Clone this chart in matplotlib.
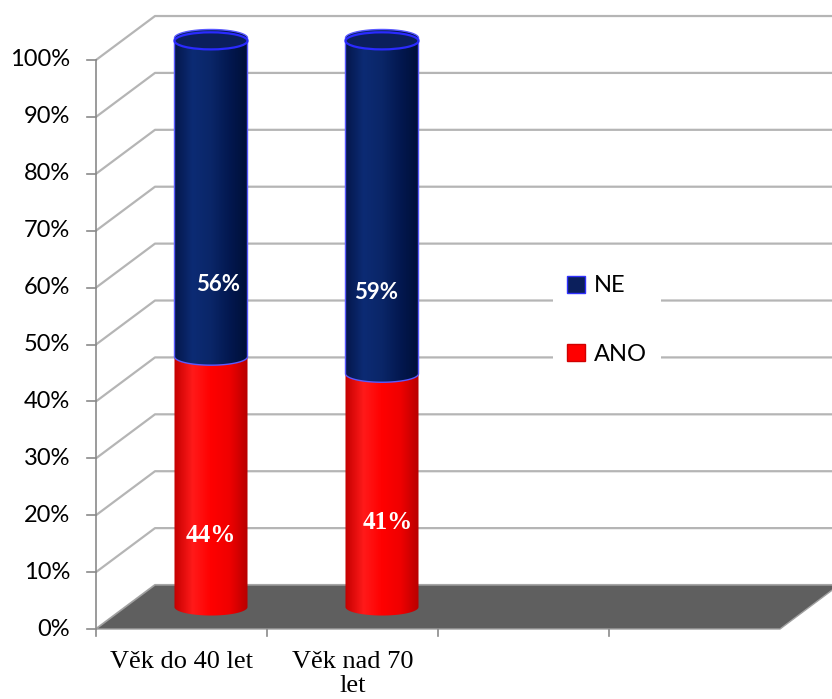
import numpy as np
import matplotlib
matplotlib.use("Agg")
import matplotlib.pyplot as plt
from matplotlib.patches import Polygon, Ellipse, Patch
from matplotlib.colors import LinearSegmentedColormap

# ==================== Data ====================
categories = ["Věk do 40 let", "Věk nad 70\nlet"]
ano = [44, 41]          # ANO (%)
ne = [56, 59]           # NE (%)
y_ticks = list(range(0, 101, 10))
n_slots = 4             # category slots on the floor

# label anchors (category units, percent)
ne_label_pos = [(0.713, 60.6), (1.637, 59.2)]
ano_label_pos = [(0.672, 16.5), (1.708, 18.8)]

# ==================== Style ====================
DU, DP = 0.345, 7.73            # depth offset of the back wall
CYL_W, CAP_H = 0.427, 3.0       # cylinder width / ellipse height
GRID = "#b5b5b5"

blue_cmap = LinearSegmentedColormap.from_list(
    "blue_cyl", ["#04164a", "#0c2b74", "#0a2668", "#031850", "#000f38"])
red_cmap = LinearSegmentedColormap.from_list(
    "red_cyl", ["#c40000", "#ff1a1a", "#ff0000", "#f00000", "#b80000"])

fig = plt.figure(figsize=(8.32, 6.99), dpi=100)
ax = fig.add_axes([0, 0, 1, 1])
ax.axis("off")


def cylinder_outline(cx, p0, p1, n=60):
    # front arc at the bottom, back arc at the top
    t = np.linspace(np.pi, 2 * np.pi, n)
    bot = np.c_[cx + CYL_W / 2 * np.cos(t), p0 + CAP_H / 2 * np.sin(t)]
    t2 = np.linspace(0, np.pi, n)
    top = np.c_[cx + CYL_W / 2 * np.cos(t2), p1 + CAP_H / 2 * np.sin(t2)]
    return np.vstack([bot, top])


def draw_segment(cx, p0, p1, cmap, edge, z):
    poly = Polygon(cylinder_outline(cx, p0, p1), closed=True,
                   facecolor="none", edgecolor=edge, lw=1.0, zorder=z + 0.5)
    ax.add_patch(poly)
    grad = np.linspace(0, 1, 200).reshape(1, -1)
    im = ax.imshow(grad, cmap=cmap, aspect="auto", interpolation="bilinear",
                   extent=(cx - CYL_W / 2, cx + CYL_W / 2, p0 - CAP_H, p1 + CAP_H),
                   zorder=z)
    im.set_clip_path(poly)


# back wall gridlines
xmax = (832 - 96) / 171
for p in y_ticks:
    ax.plot([0, DU, xmax + 1], [p, p + DP, p + DP], color=GRID, lw=1.6,
            zorder=1, solid_capstyle="butt")

# floor
floor = Polygon([(0, 0), (n_slots, 0), (n_slots + DU, DP), (DU, DP)],
                closed=True, facecolor="#5f5f5f", edgecolor="#a0a0a0",
                lw=1.0, zorder=2)
ax.add_patch(floor)

# value axis and ticks
ax.plot([0, 0], [-1.2, 100], color="#8a8a8a", lw=1.2, zorder=3)
for p in y_ticks:
    ax.plot([-0.05, 0], [p, p], color="#8a8a8a", lw=1.2, zorder=3)
    ax.text(-0.15, p, f"{p}%", ha="right", va="center", fontsize=17,
            family="Lato", color="black")
for i in range(1, n_slots):
    ax.plot([i, i], [0, -1.2], color="#8a8a8a", lw=1.2, zorder=3)

# stacked cylinders
for i, (a, b) in enumerate(zip(ano, ne)):
    cx = i + 0.5 + DU / 2
    base = DP / 2
    draw_segment(cx, base, base + a, red_cmap, "none", 5)
    draw_segment(cx, base + a, base + a + b, blue_cmap, "#5a5aff", 6)
    ax.add_patch(Ellipse((cx, base + a + b - 0.5), CYL_W, CAP_H,
                         facecolor="#0b1f5c", edgecolor="#2a2aff",
                         lw=1.6, zorder=7))

# data labels
for (x, y), v in zip(ne_label_pos, ne):
    ax.text(x, y, f"{v}%", ha="center", va="center", color="white",
            fontsize=16, fontweight="bold", family="Lato", zorder=10)
for (x, y), v in zip(ano_label_pos, ano):
    ax.text(x, y, f"{v}%", ha="center", va="center", color="white",
            fontsize=18, fontweight="bold", family="Liberation Serif", zorder=10)

# category labels
for i, c in enumerate(categories):
    ax.text(i + 0.5, -3.8, c, ha="center", va="top", fontsize=19,
            family="Liberation Serif", linespacing=1.12)

# legend
handles = [Patch(facecolor="#0b1f5c", edgecolor="#3030ff", label="NE"),
           Patch(facecolor="#ff0000", edgecolor="#d00000", label="ANO")]
leg = fig.legend(handles=handles, loc="center left",
                 bbox_to_anchor=(553 / 832, 1 - 320 / 699),
                 frameon=True, fancybox=False, edgecolor="white",
                 framealpha=1, borderaxespad=0, borderpad=0.6,
                 handlelength=0.75, handleheight=0.75, handletextpad=0.4,
                 labelspacing=2.0, prop={"family": "Lato", "size": 17})
leg.get_frame().set_linewidth(0)

ax.set_xlim(-96 / 171, xmax)
ax.set_ylim((629 - 699) / 5.69, 629 / 5.69)

fig.savefig("out.png", dpi=100)
